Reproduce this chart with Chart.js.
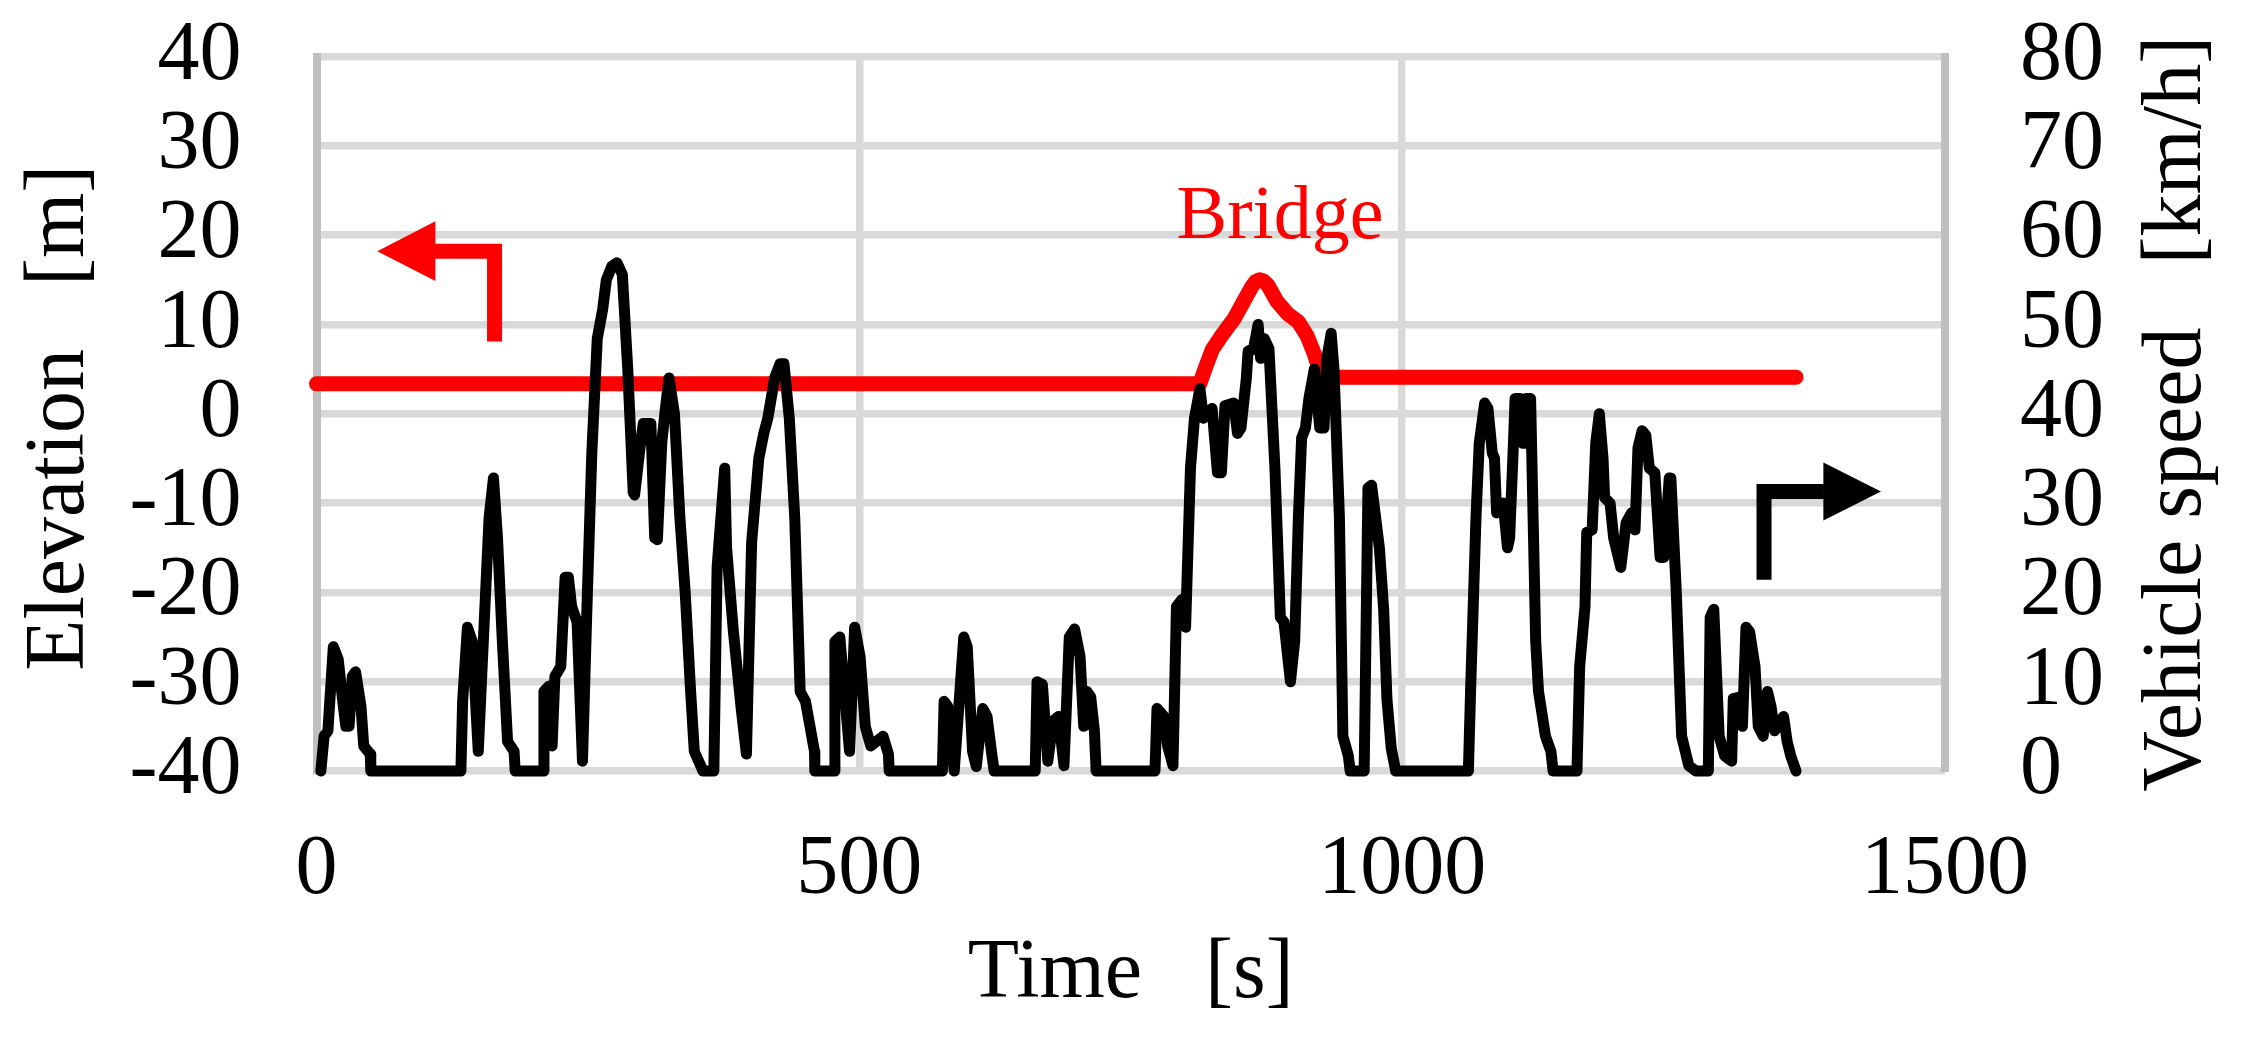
<!DOCTYPE html>
<html>
<head>
<meta charset="utf-8">
<script src="https://cdn.jsdelivr.net/npm/chart.js@4.4.1/dist/chart.umd.min.js"></script>
<style>
  html, body { margin: 0; padding: 0; background: #fff; }
  #wrap { width: 2249px; height: 1038px; }
</style>
</head>
<body>
<div id="wrap"><canvas id="chart" width="2249" height="1038"></canvas></div>
<script>
// -------------------------------
// DATA
// -------------------------------
const speedTime = [4, 7, 10.5, 15.5, 20, 24, 27, 30, 33, 36, 41, 43.5, 49.5, 50,
  133, 134.6, 139, 143.5, 149, 153, 159, 163, 166.7, 171, 176, 182, 183,
  209, 209.5, 214, 217, 219.6, 225, 229, 232, 235, 240, 245, 248.7, 253.6, 258.6, 263.6, 267, 272, 276.8, 281.7, 286.7, 291.7, 293, 298, 301, 308, 311.5, 314, 318, 321.4, 324.7, 329.7, 334.7, 339.6, 344.6, 348, 356,
  366, 369, 376, 377.7, 384, 391, 396, 400.8, 407.4, 412, 415.7, 422, 427, 430.6, 435.5, 440.5, 445.5, 450.4, 458.7, 459,
  477, 477.5, 482, 491, 495.7, 500.7, 505.5, 510.5, 521.8, 526.8, 527.5,
  576.5, 578.1, 581.5, 587.4, 596.2, 599.4, 604.3, 607.7, 613.7, 617.6, 622.2, 624.2,
  662, 663.7, 668.6, 673.6, 678.5, 683.5, 688.5, 693.4, 698.3, 703.3, 706.7, 709.7, 713.1, 716.5, 718.1,
  772.3, 774.2, 780.7, 784, 788.9, 792.1, 797.1, 800.5, 805, 808.7, 813.7, 817, 824.9, 829.9, 833.5, 836.8, 844.8, 848.3, 851.5, 856.5, 858.1, 863.1, 867.3, 869.6, 873, 877.3, 882.8, 887.8, 891.1, 897.1, 901, 904.4, 907.4, 910.9, 914.1, 919.1, 924.1, 928, 930.6, 934.6, 937.2, 942.2, 945.4, 950.4, 952.1,
  965, 968.5, 971.8, 979, 983, 986, 990, 994,
  1061, 1063, 1068, 1071, 1076, 1079, 1083, 1085, 1087, 1093, 1097, 1099, 1102.5, 1104, 1109, 1111, 1112.4, 1114, 1118.3, 1120.6, 1123, 1125.6, 1132, 1137, 1139,
  1161, 1163.5, 1168.4, 1170, 1175, 1178.3, 1181.6, 1185, 1186.5, 1191.5, 1194.8, 1201.4, 1206.3, 1211.3, 1214.5, 1217.2, 1221, 1224.4, 1227.7, 1232.7, 1237.6, 1240.9, 1246, 1247.5, 1252.5, 1257.4, 1264, 1270.6,
  1282, 1283.7, 1287, 1292, 1297, 1303.5, 1305, 1311.8, 1313.4, 1316.7, 1320, 1325, 1328, 1332.5, 1336.5, 1339.8, 1343, 1351.3, 1354.6, 1357.9, 1362.8];

const speedKmh = [0, 3.9, 4.5, 13.9, 12.5, 8, 5, 5, 10.6, 11.1, 7.2, 2.8, 1.9, 0,
  0, 7.8, 16.1, 14.5, 2.2, 12.8, 28.4, 32.8, 26.1, 15, 3.3, 2.2, 0,
  0, 8.9, 9.5, 2.8, 10.6, 11.7, 21.7, 21.7, 18.4, 16.7, 1.1, 16.7, 35.6, 48.4, 51.7, 55, 56.5, 56.9, 55.6, 45, 31.2, 30.9, 36.2, 38.9, 38.9, 26.1, 25.9, 36.7, 40.6, 44, 40, 28.4, 20, 8.9, 2.2, 0,
  0, 22.8, 33.9, 25, 15.6, 7.2, 1.9, 25.6, 35, 37.8, 39.5, 44, 45.6, 45.6, 39.5, 28.4, 8.9, 7.8, 2.2, 0,
  0, 14.5, 15, 2.2, 16.1, 12.8, 5, 2.8, 3.9, 1.9, 0,
  0, 7.8, 7.2, 0, 15, 13.9, 2.2, 0.5, 7, 6.1, 1.7, 0,
  0, 10, 9.7, 1.1, 5.6, 6.1, 0.6, 15, 15.9, 12.8, 5, 8.9, 8.3, 4.5, 0,
  0, 7, 6.1, 2.8, 0.6, 18.4, 19.2, 16.1, 33.9, 39.5, 42.8, 39.5, 40.6, 33.4, 33.4, 40.9, 41.2, 37.8, 38.4, 44, 47, 47.3, 50, 46.2, 48.4, 47.3, 33.9, 17.2, 16.7, 10, 14.5, 28.4, 37.3, 38.4, 41.7, 45, 38.4, 38.4, 46.2, 49, 45, 28.4, 3.9, 1.7, 0,
  0, 31.7, 32, 25, 18, 8, 2.5, 0,
  0, 8.9, 28.4, 36.7, 41.2, 40.6, 35.6, 35, 28.9, 30, 25, 26.1, 36.7, 41.7, 41.7, 36.7, 36.7, 41.7, 41.7, 28.4, 14.5, 8.9, 3.9, 2.2, 0,
  0, 11.7, 18.4, 26.7, 27, 36.7, 40, 35, 30.6, 30, 26.1, 22.8, 27.8, 28.9, 27, 36.2, 38.1, 37.6, 33.9, 33.4, 23.9, 23.9, 32.8, 32.8, 20, 3.9, 0.6, 0,
  0, 17.2, 18.1, 3.9, 1.7, 1.1, 8.1, 8.3, 5, 16.1, 15.6, 11.7, 5, 3.9, 8.9, 7.2, 4.5, 6.1, 3.3, 1.7, 0];

const elevTime = [0, 813.6, 818.6, 825.2, 833.4, 845, 853.2, 861.4, 865, 868.7, 872, 876.3, 884.5, 894.4, 904.3, 912.5, 919.1, 924, 929, 1362.8];
const elevM = [3.35, 3.35, 5.1, 7.2, 8.7, 10.6, 12.4, 14.2, 14.8, 15.0, 14.9, 14.4, 12.6, 11.2, 10.3, 8.7, 6.7, 4.8, 4.1, 4.1];

const timeTicks = [0, 500, 1000, 1500];
const elevTicks = [-40, -30, -20, -10, 0, 10, 20, 30, 40];
const speedTicks = [0, 10, 20, 30, 40, 50, 60, 70, 80];

// -------------------------------
// STYLE
// -------------------------------
const FONT = "'Liberation Serif', 'Times New Roman', serif";
const GRID = "#d9d9d9";
const AXIS = "#bfbfbf";

Chart.defaults.font.family = FONT;
Chart.defaults.color = "#000";

const toPoints = (xs, ys) => xs.map((x, i) => ({ x: x, y: ys[i] }));
const setTicks = arr => scale => { scale.ticks = arr.map(v => ({ value: v })); };
const plain = v => String(v);

// fixed box sizes, and no extra padding for overflowing labels
const fitTo = (prop, size) => s => {
    s[prop] = size;
    s.paddingTop = 0; s.paddingBottom = 0; s.paddingLeft = 0; s.paddingRight = 0;
};

// -------------------------------
// TITLES, "Bridge", AXIS ARROWS
// -------------------------------
const decor = {
    id: "decor",
    afterDraw(chart) {
        const { ctx, chartArea: a, scales } = chart;
        const px = t => scales.x.getPixelForValue(t);
        const py = e => scales.y.getPixelForValue(e);
        const midY = (a.top + a.bottom) / 2;

        ctx.save();
        ctx.fillStyle = "#000";
        ctx.font = "84px " + FONT;
        ctx.textAlign = "center";
        ctx.textBaseline = "alphabetic";
        ctx.fillText("Time   [s]", (a.left + a.right) / 2, a.bottom + 226);

        ctx.save();
        ctx.translate(83, midY + 4);
        ctx.rotate(-Math.PI / 2);
        ctx.fillText("Elevation   [m]", 0, 0);
        ctx.restore();

        ctx.save();
        ctx.translate(2200, midY);
        ctx.rotate(-Math.PI / 2);
        ctx.fillText("Vehicle speed   [km/h]", 0, 0);
        ctx.restore();

        ctx.fillStyle = "#ff0000";
        ctx.font = "76px " + FONT;
        ctx.fillText("Bridge", px(887.5), py(19.7));

        // arrow pointing to the left axis
        ctx.strokeStyle = "#ff0000";
        ctx.lineWidth = 15;
        ctx.lineJoin = "miter";
        ctx.lineCap = "butt";
        ctx.beginPath();
        ctx.moveTo(px(109), py(18.2));
        ctx.lineTo(px(164), py(18.2));
        ctx.lineTo(px(164), py(8.1));
        ctx.stroke();
        ctx.beginPath();
        ctx.moveTo(px(56), py(18.2));
        ctx.lineTo(px(109.5), py(21.55));
        ctx.lineTo(px(109.5), py(14.85));
        ctx.closePath();
        ctx.fill();

        // arrow pointing to the right axis
        ctx.strokeStyle = "#000";
        ctx.fillStyle = "#000";
        ctx.beginPath();
        ctx.moveTo(px(1333.3), py(-18.6));
        ctx.lineTo(px(1333.3), py(-8.7));
        ctx.lineTo(px(1388.5), py(-8.7));
        ctx.stroke();
        ctx.beginPath();
        ctx.moveTo(px(1441), py(-8.7));
        ctx.lineTo(px(1388), py(-5.45));
        ctx.lineTo(px(1388), py(-11.95));
        ctx.closePath();
        ctx.fill();
        ctx.restore();
    }
};

// -------------------------------
// CHART
// -------------------------------
new Chart(document.getElementById("chart"), {
    type: "line",
    data: {
        datasets: [
            {
                label: "Vehicle speed",
                data: toPoints(speedTime, speedKmh),
                yAxisID: "y2",
                borderColor: "#000",
                borderWidth: 11,
                borderJoinStyle: "round",
                borderCapStyle: "round",
                pointRadius: 0,
                tension: 0,
                clip: false
            },
            {
                label: "Elevation",
                data: toPoints(elevTime, elevM),
                yAxisID: "y",
                borderColor: "#ff0000",
                borderWidth: 15,
                borderJoinStyle: "round",
                borderCapStyle: "round",
                pointRadius: 0,
                tension: 0,
                clip: false
            }
        ]
    },
    options: {
        responsive: false,
        animation: false,
        events: [],
        layout: { padding: { top: 56.5, left: 0, right: 0, bottom: 0 } },
        plugins: { legend: { display: false }, tooltip: { enabled: false } },
        scales: {
            x: {
                type: "linear",
                min: 0, max: 1500,
                afterBuildTicks: setTicks(timeTicks),
                afterFit: fitTo("height", 267),
                grid: {
                    color: c => (c.tick && (c.tick.value === 0 || c.tick.value === 1500)) ? "rgba(0,0,0,0)" : GRID,
                    lineWidth: 7.5,
                    drawTicks: false
                },
                border: { display: false },
                ticks: { font: { size: 84 }, padding: 50, maxRotation: 0, autoSkip: false, callback: plain }
            },
            y: {
                position: "left",
                min: -40, max: 40,
                afterBuildTicks: setTicks(elevTicks),
                afterFit: fitTo("width", 316.5),
                grid: { color: GRID, lineWidth: 7.5, drawTicks: false },
                border: { color: AXIS, width: 8 },
                ticks: { font: { size: 84 }, padding: 75, autoSkip: false, callback: plain }
            },
            y2: {
                position: "right",
                min: 0, max: 80,
                afterBuildTicks: setTicks(speedTicks),
                afterFit: fitTo("width", 304),
                grid: { display: false, drawTicks: false },
                border: { color: AXIS, width: 8 },
                ticks: { font: { size: 84 }, padding: 75, autoSkip: false, callback: plain }
            }
        }
    },
    plugins: [decor]
});
</script>
</body>
</html>
